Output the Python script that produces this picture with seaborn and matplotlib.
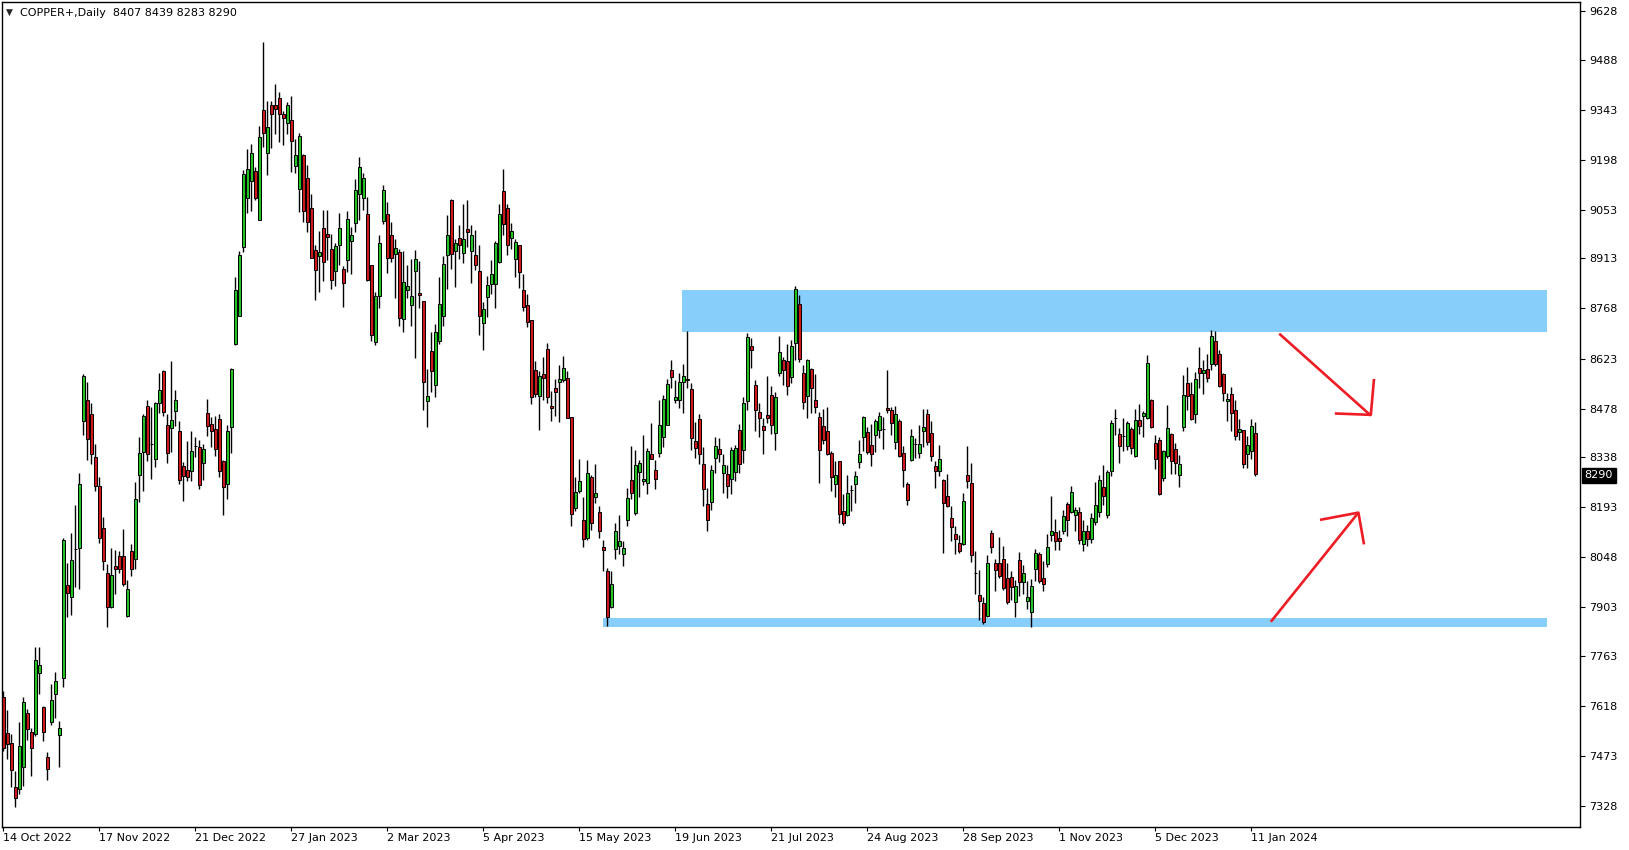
import numpy as np
import pandas as pd
import seaborn as sns
import matplotlib.pyplot as plt
from matplotlib.patches import Rectangle
import matplotlib.transforms as mtransforms

sns.set_theme(style="white")
plt.rcParams['font.family'] = ['DejaVu Sans']

# daily OHLC (COPPER+, 14 Oct 2022 .. 12 Jan 2024)
opens = [7644, 7538, 7510, 7384, 7377, 7440, 7597, 7543, 7536, 7713,
         7615, 7470, 7570, 7652, 7533, 7698, 7968, 7932, 8072, 8075,
         8442, 8502, 8462, 8337, 8253, 8133, 8001, 7903, 8023, 8052,
         8052, 7879, 8065, 8043, 8286, 8352, 8485, 8377, 8333, 8495,
         8586, 8432, 8423, 8471, 8412, 8312, 8299, 8297, 8369, 8368,
         8320, 8466, 8434, 8418, 8447, 8325, 8260, 8424, 8666, 8746,
         8946, 9089, 9137, 9165, 9025, 9342, 9219, 9357, 9357, 9376,
         9331, 9304, 9312, 9181, 9115, 9212, 9147, 9060, 8938, 8920,
         9002, 8983, 8939, 8877, 8953, 8883, 8909, 8963, 9014, 9099,
         9089, 9042, 8893, 8671, 8803, 9021, 9040, 8982, 8927, 8932,
         8738, 8822, 8779, 8875, 8814, 8790, 8501, 8646, 8545, 8675,
         8746, 8924, 9081, 8934, 8973, 8929, 8997, 8934, 8924, 8875,
         8727, 8801, 8838, 8840, 8902, 9108, 9060, 8972, 8912, 8951,
         8822, 8777, 8735, 8590, 8514, 8579, 8652, 8487, 8539, 8556,
         8562, 8568, 8455, 8191, 8239, 8157, 8103, 8279, 8222, 8180,
         8078, 8007, 7903, 8072, 8081, 8058, 8156, 8272, 8176, 8295,
         8268, 8264, 8346, 8301, 8351, 8396, 8432, 8591, 8504, 8504,
         8556, 8562, 8536, 8385, 8447, 8319, 8203, 8208, 8335, 8360,
         8292, 8290, 8275, 8295, 8415, 8357, 8500, 8658, 8546, 8467,
         8427, 8459, 8516, 8408, 8582, 8620, 8617, 8570, 8668, 8780,
         8582, 8515, 8594, 8504, 8453, 8427, 8414, 8349, 8260, 8327,
         8181, 8169, 8242, 8260, 8324, 8396, 8410, 8372, 8403, 8415,
         8419, 8481, 8475, 8382, 8441, 8350, 8259, 8330, 8377, 8350,
         8413, 8463, 8408, 8313, 8297, 8270, 8224, 8162, 8116, 8090,
         8087, 8285, 8264, 8002, 7939, 7916, 7879, 8117, 8030, 8032,
         8043, 7988, 7992, 7918, 8041, 7976, 7921, 7889, 8013, 8056,
         7988, 8029, 8113, 8122, 8104, 8125, 8203, 8179, 8171, 8179,
         8085, 8123, 8100, 8150, 8180, 8251, 8170, 8297, 8450, 8406,
         8398, 8370, 8420, 8341, 8444, 8457, 8451, 8502, 8379, 8388,
         8277, 8340, 8406, 8362, 8287, 8425, 8553, 8521, 8461, 8596,
         8582, 8594, 8608, 8674, 8637, 8577, 8501, 8521, 8475, 8410,
         8415, 8348, 8355, 8407]
highs = [7660, 7606, 7536, 7430, 7570, 7644, 7609, 7555, 7787, 7787,
         7618, 7485, 7681, 7715, 7575, 8103, 8031, 8118, 8198, 8292,
         8577, 8555, 8494, 8375, 8280, 8164, 8029, 8075, 8070, 8067,
         8131, 7982, 8085, 8265, 8396, 8463, 8504, 8483, 8497, 8581,
         8591, 8462, 8615, 8531, 8441, 8323, 8384, 8412, 8397, 8386,
         8376, 8505, 8455, 8458, 8461, 8328, 8431, 8596, 8859, 8935,
         9168, 9229, 9244, 9178, 9296, 9538, 9368, 9368, 9418, 9395,
         9339, 9366, 9383, 9257, 9275, 9215, 9183, 9099, 8951, 8992,
         9052, 9052, 8983, 8956, 9045, 8890, 9050, 9004, 9142, 9207,
         9159, 9091, 8895, 8817, 8980, 9125, 9076, 9017, 8968, 8939,
         8933, 8895, 8910, 8936, 8905, 8790, 8593, 8699, 8722, 8859,
         8919, 9038, 9084, 8970, 9009, 9070, 9081, 9009, 8994, 8951,
         8788, 8861, 8907, 8962, 9071, 9171, 9071, 9015, 8968, 8953,
         8869, 8809, 8735, 8615, 8588, 8628, 8669, 8528, 8565, 8604,
         8630, 8586, 8455, 8279, 8333, 8221, 8328, 8286, 8317, 8195,
         8099, 8017, 8007, 8148, 8169, 8096, 8249, 8370, 8357, 8330,
         8403, 8364, 8435, 8330, 8502, 8517, 8565, 8620, 8560, 8582,
         8608, 8702, 8553, 8439, 8462, 8366, 8249, 8314, 8396, 8393,
         8348, 8314, 8367, 8374, 8433, 8512, 8697, 8681, 8560, 8493,
         8452, 8572, 8543, 8525, 8688, 8626, 8666, 8676, 8833, 8807,
         8604, 8622, 8597, 8578, 8467, 8476, 8483, 8354, 8326, 8327,
         8230, 8285, 8256, 8297, 8386, 8457, 8425, 8433, 8447, 8468,
         8454, 8589, 8483, 8485, 8447, 8369, 8267, 8418, 8394, 8430,
         8478, 8478, 8441, 8325, 8372, 8273, 8288, 8195, 8137, 8111,
         8235, 8369, 8321, 8065, 8012, 7932, 8053, 8128, 8043, 8105,
         8079, 8032, 8009, 7982, 8062, 8024, 7978, 7985, 8072, 8063,
         8038, 8116, 8224, 8159, 8128, 8186, 8208, 8253, 8193, 8193,
         8157, 8140, 8175, 8267, 8285, 8314, 8299, 8444, 8478, 8423,
         8452, 8441, 8425, 8478, 8491, 8471, 8633, 8505, 8401, 8396,
         8359, 8488, 8407, 8379, 8343, 8575, 8599, 8555, 8584, 8655,
         8620, 8637, 8707, 8703, 8647, 8582, 8523, 8541, 8504, 8449,
         8417, 8398, 8449, 8439]
lows = [7488, 7464, 7382, 7324, 7362, 7386, 7519, 7415, 7531, 7652,
        7515, 7403, 7562, 7582, 7440, 7671, 7874, 7882, 7963, 7956,
        8401, 8328, 8317, 8239, 8089, 8011, 7845, 7900, 7942, 8002,
        7966, 7876, 7993, 8014, 8207, 8241, 8326, 8275, 8309, 8465,
        8456, 8321, 8352, 8427, 8261, 8212, 8268, 8268, 8338, 8246,
        8272, 8398, 8368, 8342, 8281, 8171, 8217, 8349, 8663, 8745,
        8932, 9045, 9050, 9081, 9023, 9236, 9154, 9233, 9273, 9250,
        9241, 9273, 9163, 9159, 9048, 9019, 8990, 8914, 8793, 8816,
        8848, 8907, 8825, 8832, 8893, 8772, 8874, 8869, 8990, 9023,
        9052, 8847, 8673, 8661, 8770, 9013, 8871, 8902, 8798, 8717,
        8700, 8798, 8717, 8625, 8769, 8474, 8426, 8526, 8513, 8666,
        8716, 8823, 8883, 8830, 8910, 8899, 8946, 8842, 8878, 8690,
        8649, 8743, 8809, 8769, 8899, 8980, 8922, 8941, 8859, 8828,
        8760, 8714, 8492, 8511, 8416, 8502, 8493, 8442, 8457, 8439,
        8555, 8451, 8138, 8181, 8235, 8077, 8099, 8128, 8205, 8103,
        8008, 7850, 7901, 8043, 8058, 8022, 8138, 8215, 8169, 8222,
        8256, 8232, 8331, 8244, 8338, 8367, 8430, 8539, 8493, 8481,
        8465, 8539, 8359, 8336, 8318, 8195, 8125, 8186, 8293, 8323,
        8234, 8219, 8230, 8268, 8292, 8321, 8475, 8596, 8412, 8396,
        8348, 8435, 8406, 8357, 8572, 8546, 8517, 8552, 8620, 8613,
        8477, 8451, 8466, 8466, 8263, 8375, 8343, 8239, 8222, 8148,
        8140, 8166, 8182, 8205, 8306, 8354, 8346, 8311, 8353, 8393,
        8360, 8466, 8403, 8360, 8338, 8251, 8200, 8326, 8335, 8335,
        8367, 8372, 8325, 8248, 8282, 8060, 8193, 8096, 8056, 8060,
        8082, 8248, 8034, 7942, 7867, 7855, 7876, 8060, 7950, 7988,
        7952, 7913, 7924, 7876, 7937, 7942, 7898, 7845, 7980, 7974,
        7949, 8019, 8094, 8070, 8070, 8114, 8109, 8176, 8123, 8087,
        8065, 8080, 8090, 8140, 8165, 8200, 8160, 8282, 8401, 8321,
        8355, 8357, 8346, 8338, 8404, 8396, 8449, 8422, 8304, 8227,
        8268, 8336, 8288, 8290, 8251, 8413, 8475, 8444, 8436, 8538,
        8521, 8555, 8589, 8602, 8541, 8500, 8442, 8413, 8386, 8386,
        8306, 8306, 8333, 8283]
closes = [7496, 7507, 7432, 7351, 7502, 7630, 7551, 7496, 7749, 7737,
          7541, 7435, 7636, 7691, 7554, 8099, 7945, 8041, 8072, 8259,
          8573, 8390, 8348, 8254, 8103, 8037, 7903, 7997, 8013, 8013,
          7969, 7956, 8013, 8217, 8350, 8456, 8348, 8377, 8493, 8533,
          8468, 8349, 8446, 8504, 8272, 8284, 8280, 8354, 8369, 8257,
          8362, 8427, 8413, 8362, 8297, 8251, 8412, 8592, 8821, 8924,
          9156, 9173, 9219, 9089, 9263, 9275, 9292, 9330, 9344, 9330,
          9318, 9356, 9253, 9211, 9266, 9050, 9017, 8915, 8880, 8930,
          8903, 8975, 8851, 8948, 9002, 8843, 9028, 8980, 9110, 9176,
          9147, 8849, 8692, 8805, 8956, 9112, 8915, 8915, 8944, 8741,
          8845, 8834, 8803, 8910, 8808, 8555, 8515, 8586, 8701, 8780,
          8898, 8982, 8927, 8958, 8952, 8968, 8989, 8980, 8895, 8746,
          8767, 8835, 8867, 8956, 9042, 9013, 8953, 8991, 8961, 8873,
          8772, 8729, 8511, 8521, 8573, 8567, 8512, 8481, 8526, 8565,
          8597, 8452, 8174, 8238, 8269, 8101, 8293, 8147, 8235, 8125,
          8069, 7874, 7971, 8123, 8096, 8075, 8220, 8235, 8316, 8322,
          8273, 8354, 8333, 8275, 8432, 8507, 8550, 8570, 8513, 8554,
          8571, 8563, 8394, 8364, 8347, 8245, 8156, 8301, 8369, 8346,
          8314, 8255, 8357, 8365, 8319, 8493, 8684, 8649, 8475, 8451,
          8417, 8451, 8432, 8511, 8643, 8591, 8544, 8658, 8823, 8622,
          8498, 8618, 8539, 8483, 8357, 8386, 8346, 8280, 8285, 8173,
          8147, 8233, 8242, 8282, 8346, 8453, 8353, 8348, 8441, 8458,
          8419, 8474, 8437, 8461, 8340, 8301, 8214, 8400, 8377, 8377,
          8426, 8381, 8341, 8297, 8333, 8205, 8196, 8135, 8100, 8066,
          8211, 8268, 8055, 8002, 7921, 7860, 8032, 8078, 8011, 7993,
          7959, 7918, 7961, 7966, 7976, 8003, 7934, 7966, 8059, 7979,
          7971, 8078, 8123, 8095, 8095, 8168, 8156, 8237, 8185, 8098,
          8123, 8100, 8160, 8200, 8270, 8225, 8294, 8435, 8450, 8371,
          8398, 8435, 8364, 8444, 8428, 8466, 8611, 8425, 8333, 8232,
          8354, 8423, 8326, 8321, 8319, 8516, 8515, 8447, 8565, 8582,
          8591, 8568, 8688, 8606, 8544, 8524, 8507, 8464, 8399, 8420,
          8317, 8372, 8427, 8290]

# axis labels
price_ticks = [9628, 9488, 9343, 9198, 9053, 8913, 8768, 8623, 8478,
               8338, 8193, 8048, 7903, 7763, 7618, 7473, 7328]
date_labels = ["14 Oct 2022", "17 Nov 2022", "21 Dec 2022", "27 Jan 2023",
               "2 Mar 2023", "5 Apr 2023", "15 May 2023", "19 Jun 2023",
               "21 Jul 2023", "24 Aug 2023", "28 Sep 2023", "1 Nov 2023",
               "5 Dec 2023", "11 Jan 2024"]
date_bars = [0, 24, 48, 72, 96, 120, 144, 168, 192, 216, 240, 264, 288, 312]

# supply / demand zones: (bar start, bar end, price low, price high)
zone_top = (169.8, 385.9, 8700, 8821)
zone_bottom = (149.9, 385.9, 7845, 7873)

# hand drawn arrows (bar, price) polylines
arrow_down = [[(319.0, 8695), (341.9, 8458)],
              [(332.9, 8464), (341.9, 8460), (342.7, 8564)]]
arrow_up = [[(316.9, 7861), (338.8, 8177)],
            [(329.2, 8156), (338.8, 8177), (340.2, 8085)]]

df = pd.DataFrame({'open': opens, 'high': highs, 'low': lows, 'close': closes})
df['bar'] = np.arange(len(df))
df['up'] = df['close'] >= df['open']
df['bottom'] = df[['open', 'close']].min(axis=1)
df['height'] = (df['close'] - df['open']).abs()

W, H = 1629, 850
fig = plt.figure(figsize=(W / 100, H / 100), dpi=100)
fig.patch.set_facecolor('white')
ax = fig.add_axes([2 / W, 1 - 827 / H, 1578 / W, 825 / H])
ax.set_facecolor('white')

# zones
for z in (zone_top, zone_bottom):
    ax.add_patch(Rectangle((z[0], z[2]), z[1] - z[0], z[3] - z[2],
                           facecolor='#87CEFA', edgecolor='none', zorder=0.5))

# wicks
ax.vlines(df['bar'], df['low'], df['high'], color='black', linewidth=1.0, zorder=1)

# bodies
body_colors = np.where(df['up'], '#22C322', '#D01818')
body_colors = np.where(df['height'] == 0, 'black', body_colors)
ax.bar(df['bar'], df['height'], bottom=df['bottom'], width=0.72,
       color=body_colors, edgecolor='black', linewidth=0.7, zorder=2)

# arrows
for seg in arrow_down + arrow_up:
    xs, ys = zip(*seg)
    ax.plot(xs, ys, color='#EE1C24', linewidth=1.9, solid_capstyle='butt', zorder=3)

ax.set_xlim(-0.33, 394.2)
ax.set_ylim(7267, 9655)

for s in ax.spines.values():
    s.set_color('black')
    s.set_linewidth(1.0)

ax.yaxis.tick_right()
ax.set_yticks(price_ticks)
ax.set_yticklabels([str(p) for p in price_ticks])
ax.tick_params(axis='y', direction='out', length=3.5, width=0.8, pad=3,
               labelsize=8, colors='black', right=True, left=False)
ax.set_xticks(date_bars)
ax.set_xticklabels(date_labels, ha='left')
ax.tick_params(axis='x', direction='out', length=3, width=0.8, pad=1.5,
               labelsize=8, colors='black', bottom=True)
ax.grid(False)

# current price marker
last = closes[-1]
trans = mtransforms.blended_transform_factory(ax.transAxes, ax.transData)
ax.text(1.003, last - 5, str(last), transform=trans, ha='left', va='center',
        fontsize=8, color='white', zorder=5,
        bbox=dict(boxstyle='square,pad=0.22', facecolor='black', edgecolor='black'))

# header
fig.text(9 / W, 1 - 12.5 / H, '\u25BC', fontsize=6.5, ha='center', va='center')
fig.text(20 / W, 1 - 12.5 / H,
         'COPPER+,Daily  %d %d %d %d' % (opens[-1], highs[-1], lows[-1], closes[-1]),
         fontsize=8, ha='left', va='center', color='black')

fig.savefig('out.png', dpi=100, facecolor='white')
